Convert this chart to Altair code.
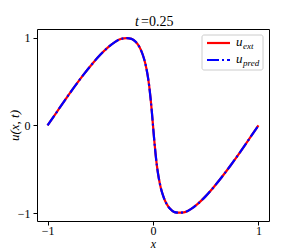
import altair as alt
import pandas as pd

# values (left half, then right half mirrored)
x_vals = [-1.0, -0.911, -0.823, -0.737, -0.653, -0.573, -0.498, -0.427, -0.362, -0.303,
          -0.25, -0.203, -0.162, -0.127, -0.098, -0.073, -0.053, -0.0365, -0.023, -0.011,
          0.0,
          0.011, 0.023, 0.0365, 0.053, 0.073, 0.098, 0.127, 0.162, 0.203, 0.25,
          0.303, 0.362, 0.427, 0.498, 0.573, 0.653, 0.737, 0.823, 0.911, 1.0]
u_ext = [0.0, 0.156, 0.309, 0.454, 0.588, 0.707, 0.809, 0.891, 0.951, 0.988,
         0.995, 0.988, 0.951, 0.891, 0.809, 0.707, 0.588, 0.454, 0.309, 0.156,
         0.0,
         -0.156, -0.309, -0.454, -0.588, -0.707, -0.809, -0.891, -0.951, -0.988, -0.995,
         -0.988, -0.951, -0.891, -0.809, -0.707, -0.588, -0.454, -0.309, -0.156, 0.0]
u_pred = list(u_ext)

df = pd.DataFrame({"x": x_vals, "u_ext": u_ext, "u_pred": u_pred})
one = pd.DataFrame({"k": [0]})

FONT = "Liberation Serif"
W, H = 232, 192

xs = alt.Scale(domain=[-1.1, 1.1], nice=False, zero=False)
ys = alt.Scale(domain=[-1.09, 1.1], nice=False, zero=False)

xenc = alt.X("x:Q", scale=xs, axis=alt.Axis(values=[-1, 0, 1], title="x", format="d",
                                             titleY=26, titleBaseline="alphabetic",
                                             labelPadding=0, titleFontSize=12))
base = alt.Chart(df)

red = base.mark_line(color="red", strokeWidth=2.2, interpolate="monotone").encode(
    x=xenc,
    y=alt.Y("u_ext:Q", scale=ys, axis=alt.Axis(values=[-1, 0, 1], title="u(x, t)", format="d",
                                                titleX=-23, titleBaseline="middle")),
)
blue = base.mark_line(color="blue", strokeWidth=2.2, interpolate="monotone",
                      strokeDash=[12, 3, 2, 3]).encode(
    x=alt.X("x:Q", scale=xs),
    y=alt.Y("u_pred:Q", scale=ys),
)

lg = alt.Chart(one)
box = lg.mark_rect(fill="white", stroke="#cccccc", strokeWidth=1, cornerRadius=2).encode(
    x=alt.value(165), x2=alt.value(226), y=alt.value(6), y2=alt.value(41))
l_red = lg.mark_rule(color="red", strokeWidth=2.2).encode(
    x=alt.value(170), x2=alt.value(193), y=alt.value(14))
l_blue = lg.mark_rule(color="blue", strokeWidth=2.2, strokeDash=[12, 3, 2, 3]).encode(
    x=alt.value(170), x2=alt.value(193), y=alt.value(31))

def txt(s, x, y, size, italic=True, align="left"):
    return lg.mark_text(text=s, font=FONT, fontSize=size, fontStyle="italic" if italic else "normal",
                        align=align, baseline="alphabetic", color="black").encode(
        x=alt.value(x), y=alt.value(y))

t1 = txt("u", 199, 17, 13)
t1s = txt("ext", 206, 20, 9)
t2 = txt("u", 199, 34, 13)
t2s = txt("pred", 206, 37, 9)
ti1 = txt("t", 98, -3, 14)
ti2 = txt("=0.25", 104, -3, 14, italic=False)

chart = alt.layer(red, blue, box, l_red, l_blue, t1, t1s, t2, t2s, ti1, ti2).properties(
    width=W, height=H,
    autosize=alt.AutoSizeParams(type="none"),
    padding={"left": 29, "top": 21, "right": 14, "bottom": 28},
).configure_view(stroke="black", strokeWidth=1).configure_axis(
    grid=False, domain=False, tickColor="black", tickSize=4, tickWidth=1,
    labelFont=FONT, labelFontSize=12, labelColor="black", labelPadding=2,
    titleFont=FONT, titleFontSize=13, titleFontStyle="italic", titleFontWeight="normal",
    titleColor="black",
).configure_axisY(labelPadding=3)

chart.save("out.html", embed_options={"renderer": "svg", "actions": False})
